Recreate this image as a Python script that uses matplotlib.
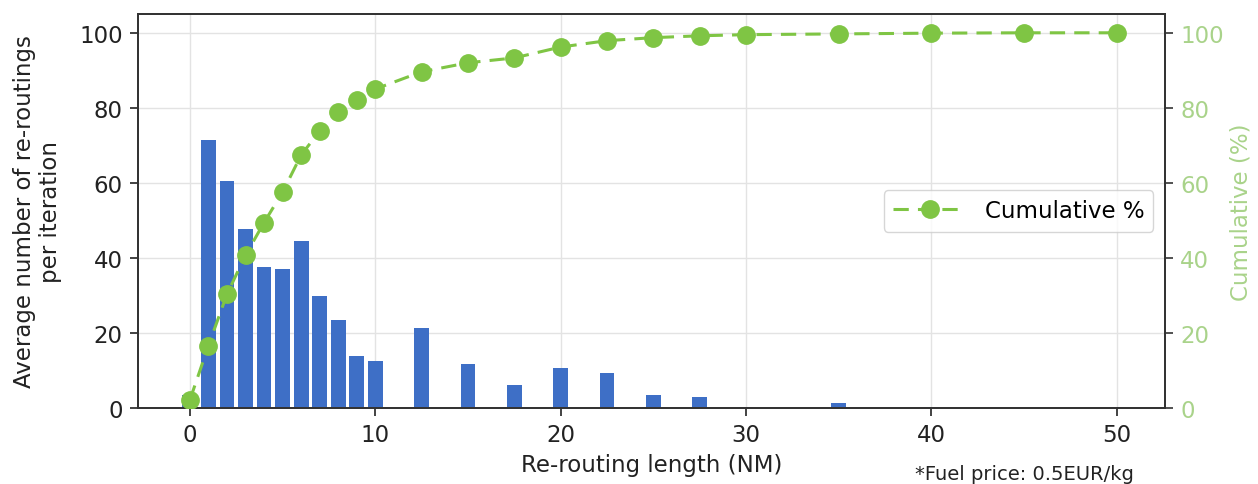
import matplotlib
matplotlib.use("Agg")
import matplotlib.pyplot as plt

# Data
lengths = [0, 1, 2, 3, 4, 5, 6, 7, 8, 9, 10, 12.5, 15, 17.5, 20, 22.5, 25, 27.5, 30, 35, 40, 45, 50]
counts = [3.5, 71.3, 60.6, 47.7, 37.5, 36.9, 44.4, 29.9, 23.5, 13.9, 12.4, 21.2, 11.7, 6.1,
          10.6, 9.3, 3.3, 2.8, 0.3, 1.3, 0.3, 0.0, 0.3]
cumulative = [2.1, 16.6, 30.3, 40.7, 49.4, 57.5, 67.4, 73.8, 79.0, 82.0, 85.0, 89.6, 92.0,
              93.3, 96.2, 97.9, 98.7, 99.2, 99.5, 99.7, 99.9, 100.0, 100.0]
xticks = [0, 10, 20, 30, 40, 50]
yticks = [0, 20, 40, 60, 80, 100]

bar_color = "#3e6fc6"
green = "#7fc544"
green_light = "#a9d38a"
fs = 16.5

plt.rcParams['font.family'] = ['DejaVu Sans']
fig = plt.figure(figsize=(12.58, 4.85), dpi=100)
ax = fig.add_axes([0.1097, 0.157, 0.8163, 0.812])
ax.set_axisbelow(True)
ax.grid(True, color="#e3e3e3", linewidth=1.0)
ax.bar(lengths, counts, width=0.8, color=bar_color, zorder=2)
ax.set_ylim(0, 105)
ax.set_xlim(-2.8, 52.6)
ax.set_xticks(xticks)
ax.set_yticks(yticks)
ax.tick_params(labelsize=fs, length=6, width=1.2, colors="#222222", pad=5)
ax.set_xlabel("Re-routing length (NM)", fontsize=fs, color="#222222", labelpad=5)
ax.set_ylabel("Average number of re-routings\nper iteration", fontsize=fs, color="#222222",
              labelpad=12)
for s in ax.spines.values():
    s.set_color("#333333")
    s.set_linewidth(1.3)

ax2 = ax.twinx()
ax2.plot(lengths, cumulative, linestyle="--", color=green, linewidth=2.2, marker="o",
         markersize=12.5, label="Cumulative %", zorder=3, dashes=(5, 3))
ax2.set_ylim(0, 105)
ax2.set_yticks(yticks)
ax2.tick_params(axis="y", labelsize=fs, length=6, width=1.2, color="#333333",
                labelcolor=green_light, pad=5)
ax2.set_ylabel("Cumulative (%)", fontsize=fs, color=green_light, labelpad=4)
for s in ax2.spines.values():
    s.set_color("#333333")
    s.set_linewidth(1.3)
ax2.legend(loc="center right", fontsize=fs, frameon=True, borderaxespad=0.5,
           handlelength=3.2)

fig.text(0.727, 0.01, "*Fuel price: 0.5EUR/kg", fontsize=14, color="#222222")

fig.savefig("out.png", dpi=100)
